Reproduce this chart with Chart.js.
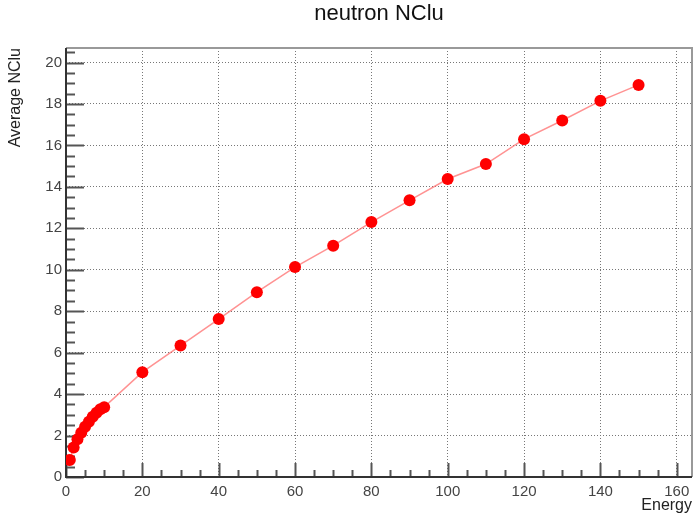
<!DOCTYPE html>
<html>
<head>
<meta charset="utf-8">
<script src="https://cdn.jsdelivr.net/npm/chart.js@4/dist/chart.umd.min.js"></script>
<style>
  body { margin: 0; background: #fff; }
</style>
</head>
<body>
<canvas id="grafico" width="698" height="519"></canvas>
<script>
// Dados: energia e média de clusters (NClu) para nêutrons
const energia = [1, 2, 3, 4, 5, 6, 7, 8, 9, 10, 20, 30, 40, 50, 60, 70, 80, 90, 100, 110, 120, 130, 140, 150];
const mediaNClu = [0.82, 1.42, 1.82, 2.14, 2.43, 2.67, 2.91, 3.10, 3.27, 3.37, 5.06, 6.34, 7.62, 8.92, 10.13, 11.16, 12.30, 13.35, 14.38, 15.10, 16.30, 17.20, 18.15, 18.92];

// Marcas dos eixos
const xTicks = [0, 20, 40, 60, 80, 100, 120, 140, 160];
const yTicks = [0, 2, 4, 6, 8, 10, 12, 14, 16, 18, 20];

const titulo = 'neutron NClu';
const fonte = 'Liberation Sans, Arial, sans-serif';

// Moldura, marcas internas e título centrado na área do gráfico (estilo ROOT)
const molduraPlugin = {
  id: 'moldura',
  beforeDatasetsDraw(chart) {
    const { ctx, chartArea: a, scales: { x, y } } = chart;
    ctx.save();
    // topo e direita em cinza
    ctx.strokeStyle = '#999';
    ctx.lineWidth = 2;
    ctx.beginPath();
    ctx.moveTo(a.left, a.top);
    ctx.lineTo(a.right, a.top);
    ctx.lineTo(a.right, a.bottom);
    ctx.stroke();

    // marcas do eixo y (maiores a cada 2, menores a cada 0.5)
    ctx.strokeStyle = '#555';
    ctx.lineWidth = 2;
    for (let v = 0; v <= y.max; v += 0.5) {
      const py = Math.round(y.getPixelForValue(v)) + 0.5;
      const len = v % 2 === 0 ? 18 : 9;
      ctx.beginPath();
      ctx.moveTo(a.left, py);
      ctx.lineTo(a.left + len, py);
      ctx.stroke();
    }
    // marcas do eixo x (maiores a cada 20, menores a cada 5)
    for (let v = 0; v <= x.max; v += 5) {
      const px = Math.round(x.getPixelForValue(v)) + 0.5;
      const len = v % 20 === 0 ? 14 : 7;
      ctx.beginPath();
      ctx.moveTo(px, a.bottom);
      ctx.lineTo(px, a.bottom - len);
      ctx.stroke();
    }

    // eixos esquerdo e inferior
    ctx.strokeStyle = '#333';
    ctx.lineWidth = 2;
    ctx.beginPath();
    ctx.moveTo(a.left, a.top);
    ctx.lineTo(a.left, a.bottom);
    ctx.lineTo(a.right, a.bottom);
    ctx.stroke();

    // título
    ctx.fillStyle = '#111';
    ctx.font = '22px ' + fonte;
    ctx.textAlign = 'center';
    ctx.textBaseline = 'alphabetic';
    ctx.fillText(titulo, (a.left + a.right) / 2, 20);
    ctx.restore();
  }
};

const ctx = document.getElementById('grafico').getContext('2d');
new Chart(ctx, {
  type: 'line',
  data: {
    datasets: [{
      data: energia.map((e, i) => ({ x: e, y: mediaNClu[i] })),
      borderColor: 'rgba(255, 100, 100, 0.7)',
      borderWidth: 1.5,
      backgroundColor: '#ff0000',
      pointBackgroundColor: '#ff0000',
      pointBorderWidth: 0,
      pointRadius: 6,
      tension: 0
    }]
  },
  plugins: [molduraPlugin],
  options: {
    responsive: false,
    animation: false,
    layout: { padding: { left: 0, right: 5, top: 48, bottom: 0 } },
    plugins: {
      legend: { display: false },
      tooltip: { enabled: false },
      title: { display: false }
    },
    scales: {
      x: {
        type: 'linear',
        min: 0,
        max: 164,
        afterBuildTicks: s => { s.ticks = xTicks.map(v => ({ value: v })); },
        afterFit: s => { s.height = 42; },
        ticks: {
          color: '#444',
          font: { family: fonte, size: 15 },
          padding: 6,
          maxRotation: 0
        },
        grid: {
          color: '#777',
          lineWidth: 1,
          drawTicks: false
        },
        border: { display: false, dash: [1, 2] },
        title: {
          display: true,
          text: 'Energy',
          align: 'end',
          color: '#222',
          font: { family: fonte, size: 16 },
          padding: { top: 0, bottom: 4 }
        }
      },
      y: {
        type: 'linear',
        min: 0,
        max: 20.7,
        afterBuildTicks: s => { s.ticks = yTicks.map(v => ({ value: v })); },
        afterFit: s => { s.width = 66; },
        ticks: {
          color: '#444',
          font: { family: fonte, size: 15 },
          padding: 4
        },
        grid: {
          color: '#777',
          lineWidth: 1,
          drawTicks: false
        },
        border: { display: false, dash: [1, 2] },
        title: {
          display: true,
          text: 'Average NClu',
          align: 'end',
          color: '#222',
          font: { family: fonte, size: 16 },
          padding: { top: 6, bottom: 0 }
        }
      }
    }
  }
});
</script>
</body>
</html>
